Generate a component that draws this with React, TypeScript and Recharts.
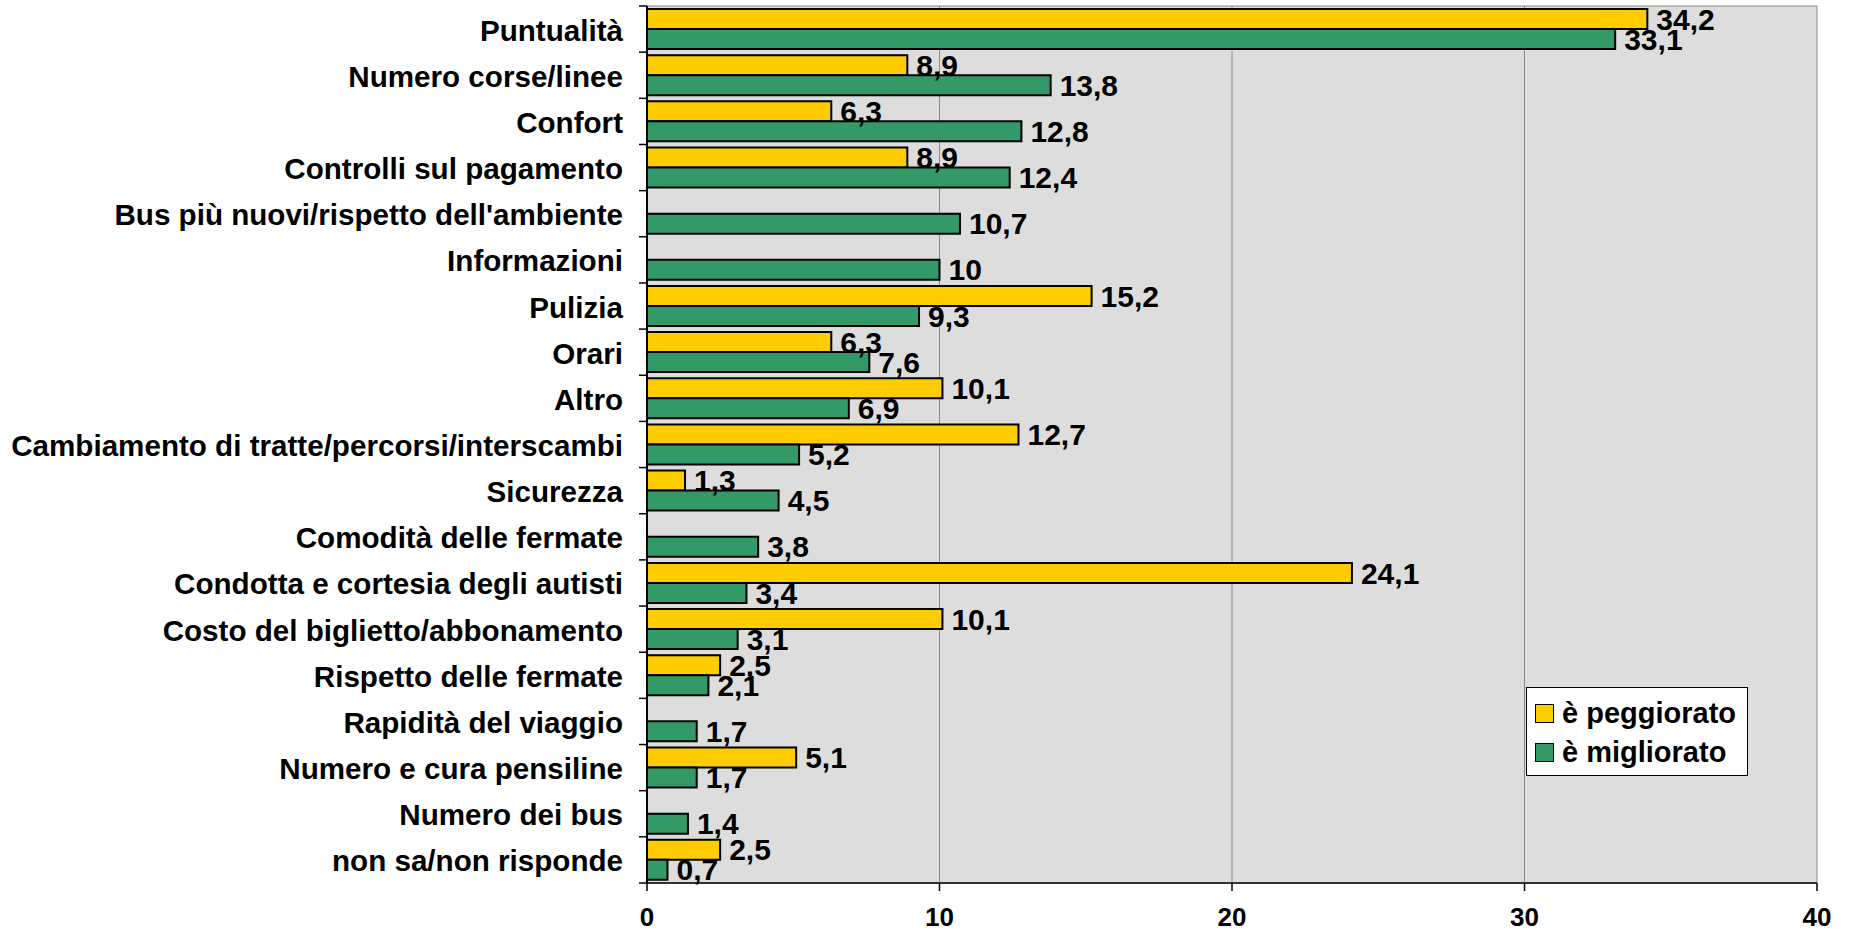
import {
  BarChart,
  Bar,
  XAxis,
  YAxis,
  CartesianGrid,
  LabelList,
  Legend,
} from "recharts";
/* eslint-disable  @typescript-eslint/no-explicit-any */

const categories = [
  "Puntualità",
  "Numero corse/linee",
  "Confort",
  "Controlli sul pagamento",
  "Bus più nuovi/rispetto dell'ambiente",
  "Informazioni",
  "Pulizia",
  "Orari",
  "Altro",
  "Cambiamento di tratte/percorsi/interscambi",
  "Sicurezza",
  "Comodità delle fermate",
  "Condotta e cortesia degli autisti",
  "Costo del biglietto/abbonamento",
  "Rispetto delle fermate",
  "Rapidità del viaggio",
  "Numero e cura pensiline",
  "Numero dei bus",
  "non sa/non risponde",
];

const peggiorato = [
  34.2, 8.9, 6.3, 8.9, null, null, 15.2, 6.3, 10.1, 12.7, 1.3, null, 24.1,
  10.1, 2.5, null, 5.1, null, 2.5,
];

const migliorato = [
  33.1, 13.8, 12.8, 12.4, 10.7, 10, 9.3, 7.6, 6.9, 5.2, 4.5, 3.8, 3.4, 3.1,
  2.1, 1.7, 1.7, 1.4, 0.7,
];

const xTicks = [0, 10, 20, 30, 40];

const seriesOrder = ["è peggiorato", "è migliorato"];

const data = categories.map((name, i) => ({
  name,
  peggiorato: peggiorato[i],
  migliorato: migliorato[i],
}));

const WIDTH = 1854;
const HEIGHT = 933;
const TOP = 6;
const BOTTOM = 50;
const PLOT_LEFT = 647;
const BAND = (HEIGHT - TOP - BOTTOM) / categories.length;
const FONT = "'Liberation Sans', Arial, sans-serif";

const YELLOW = "#FFCC00";
const GREEN = "#339966";

const fmt = (v: any) => (v == null ? "" : String(v).replace(".", ","));

const CategoryTick = (props: any) => {
  const { y, payload, index } = props;
  return (
    <g>
      <line
        x1={PLOT_LEFT - 8}
        x2={PLOT_LEFT}
        y1={y - BAND / 2}
        y2={y - BAND / 2}
        stroke="#000"
        strokeWidth={1.5}
      />
      {index === categories.length - 1 && (
        <line
          x1={PLOT_LEFT - 8}
          x2={PLOT_LEFT}
          y1={y + BAND / 2}
          y2={y + BAND / 2}
          stroke="#000"
          strokeWidth={1.5}
        />
      )}
      <text
        x={PLOT_LEFT - 24}
        y={y + 1}
        dy="0.355em"
        textAnchor="end"
        fontFamily={FONT}
        fontWeight="bold"
        fontSize={29.6}
        fill="#000"
      >
        {payload.value}
      </text>
    </g>
  );
};

const LegendBox = (props: any) => {
  const items = [...(props.payload || [])].sort(
    (a: any, b: any) => seriesOrder.indexOf(a.value) - seriesOrder.indexOf(b.value),
  );
  return (
    <div
      style={{
        background: "#fff",
        border: "1px solid #000",
        width: 222,
        height: 89,
        boxSizing: "border-box",
        padding: "6px 0 0 8px",
        fontFamily: FONT,
        fontWeight: "bold",
        fontSize: 29,
        color: "#000",
      }}
    >
      {items.map((item: any) => (
        <div
          key={item.value}
          style={{ display: "flex", alignItems: "center", height: 39 }}
        >
          <span
            style={{
              display: "inline-block",
              width: 17,
              height: 17,
              background: item.color,
              border: "1.5px solid #000",
              marginRight: 8,
            }}
          />
          <span>{item.value}</span>
        </div>
      ))}
    </div>
  );
};

export default function App() {
  return (
    <div style={{ position: "absolute", left: 0, top: 0, background: "#fff" }}>
      <BarChart
        layout="vertical"
        width={WIDTH}
        height={HEIGHT}
        data={data}
        margin={{ top: TOP, right: WIDTH - 1817, bottom: 0, left: 0 }}
        barSize={20}
        barGap={0}
      >
        <CartesianGrid
          fill="#DDDDDD"
          stroke="#8a8a8a"
          strokeWidth={1}
          horizontalPoints={[TOP]}
        />
        <XAxis
          type="number"
          domain={[0, 40]}
          ticks={xTicks}
          interval={0}
          height={BOTTOM}
          axisLine={{ stroke: "#333", strokeWidth: 2 }}
          tickLine={{ stroke: "#000", strokeWidth: 1.5 }}
          tickSize={8}
          tickMargin={17}
          tick={{
            fontFamily: FONT,
            fontWeight: "bold",
            fontSize: 26,
            fill: "#000",
          }}
        />
        <YAxis
          type="category"
          dataKey="name"
          width={PLOT_LEFT}
          interval={0}
          tickLine={false}
          axisLine={{ stroke: "#000", strokeWidth: 2 }}
          tick={<CategoryTick />}
        />
        <Legend
          layout="vertical"
          align="center"
          verticalAlign="middle"
          wrapperStyle={{ left: 1526, top: 687, width: 222 }}
          content={<LegendBox />}
        />
        <Bar
          dataKey="peggiorato"
          name="è peggiorato"
          fill={YELLOW}
          stroke="#000"
          strokeWidth={2}
          isAnimationActive={false}
        >
          <LabelList
            dataKey="peggiorato"
            position="right"
            offset={9}
            formatter={fmt}
            fill="#000"
            fontFamily={FONT}
            fontWeight="bold"
            fontSize={30}
          />
        </Bar>
        <Bar
          dataKey="migliorato"
          name="è migliorato"
          fill={GREEN}
          stroke="#000"
          strokeWidth={2}
          isAnimationActive={false}
        >
          <LabelList
            dataKey="migliorato"
            position="right"
            offset={9}
            formatter={fmt}
            fill="#000"
            fontFamily={FONT}
            fontWeight="bold"
            fontSize={30}
          />
        </Bar>
      </BarChart>
    </div>
  );
}
